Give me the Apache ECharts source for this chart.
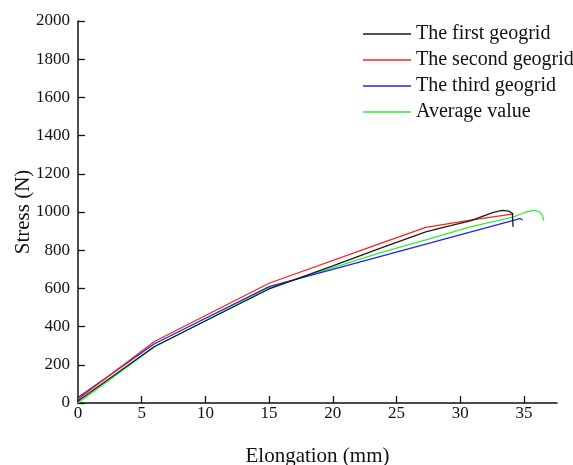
<!DOCTYPE html>
<html>
<head>
<meta charset="utf-8">
<script src="https://cdn.jsdelivr.net/npm/echarts@6/dist/echarts.min.js"></script>
<style>
  html, body { margin: 0; padding: 0; background: #fff; }
  #chart { width: 573px; height: 465px; }
</style>
</head>
<body>
<div id="chart"></div>
<script>
// Tensile test curves: elongation (mm) vs. stress (N)
const seriesNames = ['The first geogrid', 'The second geogrid', 'The third geogrid', 'Average value'];
const seriesColors = ['#1a1a1a', '#ff2020', '#2020ff', '#33ee33'];

const firstX = [0, 6, 15, 20, 23.7, 27.3, 29, 30.8, 31.8, 32.6, 33.3, 33.8, 34.1, 34.15];
const firstY = [10, 296, 597, 718, 809, 896, 925, 953, 978, 998, 1008, 1005, 993, 922];

const secondX = [0, 6, 15, 23.7, 27.3, 30.8, 33.4, 34.2];
const secondY = [20, 322, 627, 835, 919, 958, 982, 990];

const thirdX = [0, 6, 15, 34.4, 34.7, 34.9];
const thirdY = [28, 310, 609, 960, 966, 958];

const averageX = [0, 6, 15, 23.7, 27.3, 30.8, 34.2, 35.2, 35.8, 36.2, 36.45, 36.55];
const averageY = [0, 293, 603, 786, 854, 922, 974, 1000, 1008, 1002, 985, 955];

const xTicks = [0, 5, 10, 15, 20, 25, 30, 35];

function pairs(xs, ys) {
  return xs.map((x, i) => [x, ys[i]]);
}
const seriesData = [
  pairs(firstX, firstY),
  pairs(secondX, secondY),
  pairs(thirdX, thirdY),
  pairs(averageX, averageY)
];
const zOrder = [5, 4, 3, 2];

const serif = 'Liberation Serif';
const chart = echarts.init(document.getElementById('chart'));
chart.setOption({
  animation: false,
  backgroundColor: '#fff',
  textStyle: { fontFamily: serif, color: '#111' },
  grid: { left: 78, right: 16, top: 21, bottom: 62, containLabel: false, outerBoundsMode: 'none' },
  legend: {
    show: true,
    orient: 'vertical',
    left: 358,
    top: 19,
    icon: 'rect',
    itemWidth: 48,
    itemHeight: 1.4,
    itemGap: 6,
    data: seriesNames,
    textStyle: { fontFamily: serif, fontSize: 20, color: '#111', lineHeight: 20 }
  },
  xAxis: {
    type: 'value',
    min: 0,
    max: 37.6,
    name: 'Elongation (mm)',
    nameLocation: 'middle',
    nameGap: 43,
    nameMoveOverlap: false,
    nameTextStyle: { fontFamily: serif, fontSize: 21, color: '#111' },
    axisLine: { onZero: false, lineStyle: { color: '#111', width: 1.5 } },
    axisTick: { inside: true, length: 7, customValues: xTicks, lineStyle: { color: '#111', width: 1.3 } },
    axisLabel: { customValues: xTicks, margin: 2, fontFamily: serif, fontSize: 17, color: '#111' },
    splitLine: { show: false }
  },
  yAxis: {
    type: 'value',
    min: 0,
    max: 2000,
    interval: 200,
    name: 'Stress (N)',
    nameLocation: 'middle',
    nameGap: 44,
    nameMoveOverlap: false,
    nameTextStyle: { fontFamily: serif, fontSize: 21, color: '#111' },
    axisLine: { show: true, lineStyle: { color: '#111', width: 1.5 } },
    axisTick: { show: true, inside: true, length: 7, lineStyle: { color: '#111', width: 1.3 } },
    axisLabel: { margin: 8, fontFamily: serif, fontSize: 17, color: '#111', formatter: v => String(v) },
    splitLine: { show: false }
  },
  series: seriesNames.map((name, i) => ({
    name: name,
    type: 'line',
    data: seriesData[i],
    symbol: 'none',
    z: zOrder[i],
    color: seriesColors[i],
    itemStyle: { color: seriesColors[i] },
    lineStyle: { color: seriesColors[i], width: 1.3 }
  }))
});
</script>
</body>
</html>
